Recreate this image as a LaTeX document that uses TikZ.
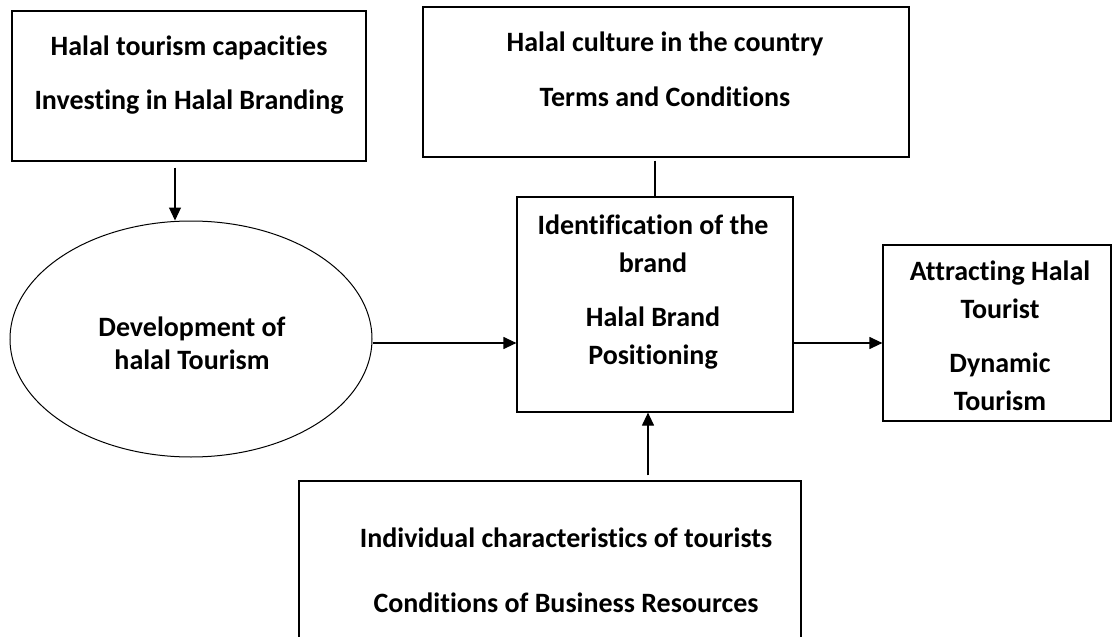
\documentclass[tikz,border=0pt]{standalone}
\usepackage{fontspec}
\setmainfont{Carlito}[Ligatures=NoCommon]
\usepackage{tikz}
\usetikzlibrary{shapes,arrows.meta}

\begin{document}
\begin{tikzpicture}[x=1pt,y=-1pt,
		box/.style={draw, line width=1.2pt, rectangle, inner sep=0pt},
		txt/.style={align=center, font=\bfseries\fontsize{28}{38}\selectfont, inner sep=0pt},
		arr/.style={line width=1.2pt, -{Triangle[length=13pt,width=12pt]}}]
			      \useasboundingbox (0,0) rectangle (1112,637);
			      \begin{scope}
				      \node[box, minimum width=354pt, minimum height=150pt] (capbox) at (189,86) {};
				      \node[box, minimum width=486pt, minimum height=150pt] (culturebox) at (666,82) {};
				      \node[box, minimum width=276pt, minimum height=215pt] (brandbox) at (655,304.5) {};
				      \node[box, minimum width=228pt, minimum height=176pt] (attractbox) at (997,333) {};
				      \node[box, minimum width=502pt, minimum height=190pt] (resbox) at (550,576) {};
				      \node[draw, line width=1pt, ellipse, minimum width=362pt, minimum height=236pt] (devnode) at (191,339) {};
				      \node[txt] (captxt) at (189,75) {Halal tourism capacities\\[16pt]Investing in Halal Branding};
				      \node[txt] (culturetxt) at (665,69) {Halal culture in the country\\[17pt]Terms and Conditions};
				      \node[txt] (brandtxt) at (653,292) {Identification of the\\brand\\[16pt]Halal Brand\\Positioning};
				      \node[txt] (attracttxt) at (1000,336) {Attracting Halal\\Tourist\\[16pt]Dynamic\\Tourism};
				      \node[txt, font=\bfseries\fontsize{28}{33}\selectfont] (devtxt) at (192,343) {Development of\\halal Tourism};
				      \node[txt] (restxt) at (566,570) {Individual characteristics of tourists\\[27pt]Conditions of Business Resources};
				      \coordinate (midrow) at (0,343);
				      \coordinate (downcol) at (175,0);
				      \coordinate (upcol) at (648,0);
				      \draw[arr] ([yshift=-6pt]capbox.south -| downcol) -- (devnode.north -| downcol);
				      \draw[line width=1.2pt] ([yshift=-3pt]culturebox.south -| brandbox.north) -- (brandbox.north);
				      \draw[arr] (devnode.east |- midrow) -- (brandbox.west |- midrow);
				      \draw[arr] (brandbox.east |- midrow) -- (attractbox.west |- midrow);
				      \draw[arr] ([yshift=5pt]resbox.north -| upcol) -- (brandbox.south -| upcol);
			      \end{scope}
		      \end{tikzpicture}
\end{document}
